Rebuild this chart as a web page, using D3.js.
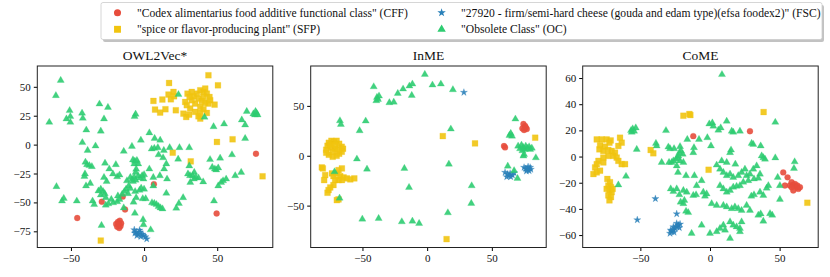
<!DOCTYPE html>
<html>
<head>
<meta charset="utf-8">
<script src="https://cdn.jsdelivr.net/npm/d3@7"></script>
<style>
  body { margin: 0; background: #fff; }
</style>
</head>
<body>
<div id="chart-area"></div>
<script>
// class names as in the legend
var classNames = [
    '"Codex alimentarius food additive functional class" (CFF)',
    '"spice or flavor-producing plant" (SFP)',
    '"27920 - firm/semi-hard cheese (gouda and edam type)(efsa foodex2)" (FSC)',
    '"Obsolete Class" (OC)'
];
var panelTitles = ['OWL2Vec*', 'InME', 'CoME'];

// ---- OWL2Vec* ----
var owlCFF = [[-17.9,-67.0],[-16.6,-65.8],[-15.7,-68.1],[-18.4,-71.0],[-17.0,-72.2],[-16.1,-70.5],[-19.1,-68.7],[-17.3,-68.7],
    [-45.7,-63.5],[-28.9,-49.4],[-14.6,-45.0],[-13.0,-56.1],[6.7,-34.2],[49.6,-59.6],[76.5,-7.9]];
var owlSFP = [[44.0,60.0],[50.5,51.3],[17.1,53.3],[6.4,37.8],[12.5,39.0],[16.7,43.3],[20.1,45.6],[20.5,41.8],[18.3,39.2],
    [7.5,30.3],[11.0,27.7],[14.6,30.6],[21.7,29.7],[26.9,26.8],[28.8,23.9],[30.8,25.9],[28.1,36.9],[29.7,44.1],[32.6,45.6],
    [36.1,44.1],[38.4,47.0],[40.6,45.6],[41.8,48.5],[42.9,44.1],[44.7,41.2],[37.2,39.8],[39.5,37.8],[41.8,36.1],[34.9,35.5],
    [38.4,32.6],[40.6,30.6],[44.0,35.5],[45.2,38.4],[48.2,34.6],[38.4,22.5],[37.2,24.5],[31.5,31.2],[29.2,34.1],[32.6,38.4],
    [33.8,41.8],[31.1,41.2],[40.6,41.2],[38.4,27.4],[42.9,27.4],[34.9,28.3],[49.8,2.3],[60.5,4.6],[31.9,-14.5],[19.6,-7.0],
    [81.0,-27.4],[-29.6,-83.0]];
var owlFSC = [[-6.7,-73.7],[-5.4,-75.7],[-4.0,-77.5],[-2.7,-75.7],[-1.3,-77.5],[-4.9,-78.7],[-3.1,-74.0],[-0.4,-78.7],
    [0.9,-79.8],[1.8,-81.6],[-6.3,-76.6],[-2.2,-79.5]];
var owlOC = [[-57.0,55.6],[-60.3,42.4],[-64.8,19.3],[-50.9,29.5],[-53.1,22.2],[-50.4,24.3],[-50.4,19.3],[-42.4,27.2],
    [-41.9,22.8],[-39.5,12.6],[-42.2,1.8],[-38.6,-5.0],[-33.2,-1.2],[-30.5,35.1],[-24.7,32.2],[-27.4,22.2],[-29.6,11.7],
    [-6.5,24.3],[-5.8,26.3],[3.6,10.2],[-2.2,3.8],[-8.3,-1.5],[-13.9,-5.8],[7.2,5.3],[11.0,3.8],[5.2,-3.8],[7.0,-3.2],
    [9.4,-2.6],[13.5,-5.0],[9.9,-8.8],[13.0,-11.4],[17.5,-2.6],[24.2,-2.6],[23.3,-12.6],[30.9,-2.6],[30.9,-18.4],
    [-40.1,-15.2],[-39.0,-17.3],[-37.4,-18.1],[-35.7,-19.0],[-40.4,-25.4],[-40.8,-27.5],[-36.8,-33.6],[-39.7,-35.7],
    [-59.9,-36.3],[-54.9,-46.5],[-56.1,-48.8],[-46.0,-48.8],[-35.2,-48.8],[-34.1,-51.8],[-31.2,-40.1],[-29.6,-38.6],
    [-28.0,-40.6],[-29.6,-43.6],[-26.9,-42.4],[-26.2,-45.9],[-26.7,-16.1],[-23.8,-21.1],[-27.4,-28.4],[-25.6,-31.9],
    [-21.3,-25.4],[-18.4,-27.8],[-19.3,-17.3],[-16.8,-26.3],[-11.7,-31.3],[-10.5,-35.7],[-12.3,-38.6],[-13.5,-40.6],
    [-15.0,-43.0],[-11.0,-42.4],[-17.9,-44.4],[-16.8,-47.4],[-18.4,-49.4],[-22.4,-47.4],[-21.1,-50.3],[-26.2,-52.3],
    [-24.4,-51.2],[-13.9,-54.7],[-7.6,-13.2],[-6.3,-14.3],[-4.9,-13.7],[-6.7,-16.7],[-4.0,-16.7],[-5.4,-21.3],[-5.8,-24.0],
    [-9.4,-28.4],[-8.1,-30.1],[-6.7,-28.4],[-5.8,-30.7],[-7.6,-31.9],[-4.0,-27.2],[-2.7,-28.9],[-1.3,-26.9],[-0.4,-29.8],
    [0.0,-26.0],[-9.4,-38.0],[-6.1,-40.6],[-3.1,-39.5],[-5.4,-45.9],[-2.0,-37.7],[0.0,-38.6],[-0.9,-46.8],[1.1,-46.8],
    [-7.2,-49.7],[-6.3,-59.4],[-29.1,-69.9],[-0.7,-64.9],[-0.4,-69.3],[4.5,-73.7],[3.6,-21.1],[6.3,-28.4],[6.3,-35.7],
    [15.2,-16.7],[13.7,-21.1],[10.8,-26.9],[15.7,-29.8],[5.4,-50.3],[7.0,-50.9],[8.5,-51.8],[9.9,-53.5],[11.2,-54.7],
    [12.6,-55.6],[15.2,-42.1],[22.0,-55.0],[23.8,-50.9],[26.7,-45.9],[30.0,-25.4],[31.4,-26.9],[33.2,-26.9],[34.3,-24.0],
    [35.4,-28.4],[37.2,-28.9],[31.6,-32.7],[34.1,-29.8],[40.4,-32.2],[45.1,-12.9],[46.6,-19.6],[48.4,-21.1],[49.3,-21.9],
    [50.7,-20.2],[52.0,-11.7],[47.8,-48.8],[50.7,-35.7],[52.7,-32.7],[54.0,-31.3],[56.1,-29.8],[62.3,-26.9],[66.4,-24.0],
    [60.1,-8.8],[47.5,15.5],[54.7,17.8],[41.3,23.7],[66.8,21.3],[69.1,17.0],[69.1,5.3],[70.2,28.7],[74.7,26.6],[75.8,25.7],
    [76.9,27.2],[76.2,28.7],[77.6,25.7],[23.5,43.3]];

// ---- InME ----
var inmeCFF = [[59.4,9.7],[60.2,8.4],[74.4,31.8],[75.7,29.8],[73.6,27.4],[74.9,25.8],[77.0,26.8],[76.2,28.4]];
var inmeSFP = [[-78,6],[-77,10],[-76,13],[-74,15],[-72,14],[-70,15],[-68,12],[-66,9],[-65,7],[-66,4],[-68,2],[-70,0],
    [-73,-1],[-76,1],[-78,3],[-74,8],[-71,7],[-73,4],[-69,6],[-75,11],[-71,11],
    [-81.4,-11.7],[-80.6,-12.7],[-78.8,-19.4],[-79.6,-24.4],[-73.6,-17.7],[-72.4,-20.4],[-69.8,-17.7],[-68.5,-14.4],
    [-65.9,-12.7],[-67.2,-20.4],[-64.6,-21.7],[-62.0,-22.7],[-59.4,-23.7],[-56.3,-22.7],[-65.9,-24.4],[-68.5,-24.4],
    [-71.1,-24.4],[-72.4,-29.4],[-74.9,-31.8],[-76.2,-34.4],[-77.0,-37.1],[-68.5,-43.8],[-69.8,-44.5],
    [83.5,18.1],[12.1,19.7],[37.0,12.4],[15.0,-83.6]];
var inmeFSC = [[28.4,63.5],[60.2,-16.7],[62.0,-18.4],[63.3,-20.1],[64.6,-21.1],[61.5,-21.1],[64.1,-17.7],[65.9,-19.4],
    [67.2,-17.1],[74.9,-11.7],[76.2,-13.0],[77.5,-13.7],[78.8,-15.1],[80.1,-13.7],[76.7,-15.4],[79.6,-11.7],[78.0,-11.0]];
var inmeOC = [[-1.8,81.6],[-41.3,69.2],[-38.8,58.5],[-38.0,56.5],[-39.3,55.2],[-37.2,59.9],[-29.2,53.2],[-25.8,53.8],
    [-22.7,62.5],[-18.6,66.9],[-13.7,69.9],[-11.4,71.9],[-11.9,60.5],[4.1,70.9],[10.6,71.9],[19.9,66.2],[-67.4,35.1],
    [-66.7,31.4],[-47.5,34.8],[-52.2,25.1],[-54.3,-3.3],[-46.5,-13.4],[-17.6,-12.7],[16.8,-8.4],[18.3,26.8],[-14.0,-31.8],
    [-71.6,-16.1],[-67.7,-42.5],[-50.1,-63.5],[-37.5,-62.9],[-19.6,-66.2],[-11.4,-65.6],[-6.2,-67.9],[16.0,-57.2],
    [34.1,-47.8],[34.4,-30.1],[68.2,36.8],[63.6,20.4],[64.6,22.4],[65.6,19.7],[62.3,-10.4],[67.2,-15.0],[69.8,-22.7],
    [70.3,9.7],[71.8,7.0],[72.9,10.7],[74.2,8.4],[75.5,6.4],[76.2,9.7],[77.5,7.4],[78.8,9.0],[79.6,6.4],[80.9,7.7],
    [73.6,5.0],[74.9,1.3],[74.4,-0.3],[84.0,-2.0]];

// ---- CoME ----
var comeCFF = [[-12.0,15.6],[28.7,19.4],[52.6,-12.1],[55.7,-15.9],[53.8,-22.2],[58.6,-19.6],[59.8,-21.7],[61.0,-20.9],
    [62.2,-23.4],[63.4,-24.7],[59.8,-25.9],[57.4,-22.2],[62.7,-22.2],[64.6,-23.4],[58.6,-23.4]];
var comeSFP = [[-81.3,13.1],[-77.8,13.1],[-74.2,13.1],[-71.3,12.3],[-72.2,10.6],[-78.9,8.6],[-75.4,7.6],[-79.4,5.5],
    [-76.6,4.3],[-73.0,5.0],[-70.6,4.3],[-68.2,3.0],[-69.4,0.5],[-67.0,-0.8],[-65.8,-3.3],[-63.4,-5.8],[-61.0,-5.8],
    [-64.6,14.4],[-63.4,10.6],[-65.8,8.1],[-73.0,0.5],[-76.6,-0.8],[-80.1,-3.3],[-81.3,-5.8],[-82.5,-8.3],[-83.7,-13.4],
    [-81.3,-12.1],[-78.9,-10.8],[-76.6,-4.5],[-73.7,-17.1],[-71.8,-19.6],[-73.0,-22.2],[-71.1,-23.4],[-72.2,-25.9],
    [-70.6,-27.2],[-73.0,-29.7],[-71.1,-31.0],[-72.2,-33.5],[-69.9,-24.7],[-74.2,-24.7],
    [-42.6,5.0],[-40.7,2.5],[-19.1,31.2],[-14.8,32.5],[-14.1,31.7],[38.5,34.0],[-1.0,-10.1],[69.9,-35.3]];
var comeFSC = [[-39.2,-32.2],[-52.2,-48.4],[-23.9,-43.8],[-28.7,-58.7],[-27.5,-57.4],[-26.3,-56.2],[-25.1,-54.9],
    [-23.9,-53.7],[-22.7,-52.4],[-21.5,-51.6],[-26.3,-53.7],[-23.9,-51.1],[-28.2,-56.2],[-25.8,-57.9],[-22.0,-54.4]];
var comeOC = [[8.6,62.7],[46.9,26.2],[-31.6,19.9],[-56.7,19.9],[-55.5,21.2],[-54.5,19.4],[-53.3,21.9],[-56.2,18.6],
    [-52.6,5.5],[-60.3,-15.1],[-65.8,-21.7],[-38.8,10.1],[-38.3,8.1],[-34.7,-4.5],[-29.9,7.3],[-28.7,6.0],[-29.4,-4.5],
    [-27.5,-4.5],[-25.8,6.0],[-21.5,7.6],[-20.8,4.3],[-19.6,1.8],[-22.7,0.5],[-24.4,-2.0],[-26.3,-3.3],[-21.5,-3.3],
    [-23.9,-7.1],[-23.0,-12.1],[-19.1,-4.5],[-23.4,-0.8],[-22.0,3.0],[-17.2,-14.6],[-11.2,-14.6],[-12.0,3.0],[-11.5,6.8],
    [-16.3,13.1],[-7.9,13.1],[-1.9,14.4],[0.7,8.1],[-0.5,24.9],[1.7,25.7],[2.4,23.2],[6.0,20.2],[7.7,21.9],[12.0,27.0],
    [15.6,19.4],[16.7,18.6],[21.5,19.4],[29.9,10.1],[31.1,9.3],[36.4,8.1],[38.3,-0.8],[39.5,-2.0],[37.1,0.5],[46.9,-1.0],
    [60.8,-4.0],[60.3,-9.1],[48.6,-15.9],[50.2,-22.2],[41.9,-22.2],[40.7,-24.2],[35.9,-27.2],[38.3,-29.7],[31.6,-29.2],
    [29.7,-30.2],[50.2,-32.7],[44.7,-44.8],[43.1,-43.6],[38.3,-49.4],[34.7,-44.8],[36.4,-43.8],[15.1,5.0],[14.4,3.0],
    [18.2,-5.8],[12.0,-4.5],[8.4,-3.3],[4.8,-6.5],[7.2,-9.6],[9.6,-12.1],[12.0,-14.6],[14.4,-13.4],[16.7,-15.9],
    [20.3,-14.6],[22.7,-12.1],[25.1,-9.6],[26.3,-14.6],[28.7,-13.4],[31.1,-9.6],[33.5,-7.1],[35.9,-13.4],[34.7,-16.6],
    [31.6,-17.1],[27.5,-18.4],[23.9,-19.6],[21.5,-22.2],[19.1,-22.7],[16.7,-23.4],[14.4,-25.9],[12.0,-27.2],[9.6,-24.7],
    [7.2,-22.2],[-9.6,-22.2],[-6.0,-18.4],[-4.8,-27.2],[-3.6,-30.2],[-2.4,-28.5],[1.2,-36.0],[4.8,-37.3],[9.6,-37.3],
    [12.0,-38.5],[15.6,-39.8],[17.9,-38.5],[20.3,-39.8],[22.7,-41.1],[26.3,-37.3],[28.7,-41.1],[14.4,-49.9],[16.7,-52.4],
    [19.1,-53.7],[21.5,-54.9],[22.7,-49.9],[9.6,-52.4],[7.2,-54.9],[4.8,-57.4],[10.8,-56.2],[14.4,-62.5],[21.5,-57.4],
    [0.0,-58.7],[-6.0,-52.4],[-13.2,-58.7],[-17.2,-41.8],[-15.6,-42.8],[-21.1,-34.8],[-18.4,-33.5],[-19.1,-36.0],
    [-26.3,-26.7],[-23.9,-24.7],[-22.0,-29.2],[-19.1,-25.9],[-16.7,-27.2],[-12.0,-29.7],[-10.0,-29.2],[-28.2,-24.7]];

// axis ticks and limits per panel
var xTicks = [[-50, 0, 50], [-50, 0, 50], [-50, 0, 50]];
var yTicks = [[-75, -50, -25, 0, 25, 50], [-50, 0, 50], [-60, -40, -20, 0, 20, 40, 60]];
var xLimits = [[-73, 88], [-90, 92], [-91.4, 77.7]];
var yLimits = [[-89, 68], [-92, 90], [-69.5, 69.2]];

var panelData = [
    [owlCFF, owlSFP, owlFSC, owlOC],
    [inmeCFF, inmeSFP, inmeFSC, inmeOC],
    [comeCFF, comeSFP, comeFSC, comeOC]
];

var colors = ['#e74c3c', '#f1c40f', '#2980b9', '#2ecc71'];
var symbols = [d3.symbolCircle, d3.symbolSquare, d3.symbolStar, d3.symbolTriangle];
var symSizes = [28, 34, 16, 22];
var serif = '"Liberation Serif", "Times New Roman", "DejaVu Serif", serif';

var width = 830, height = 277;
var svg = d3.select("#chart-area").append("svg")
            .attr("width", width)
            .attr('height', height)
            .style('font-family', serif);

var panelLeft = [37.3, 310.7, 582.7];
var panelW = 235.5;
var plotTop = 66, plotBottom = 247.5;

var fmt = (d) => { return String(d).replace('-', '\u2212'); };

panelData.forEach((groups, p) => {
    var x = d3.scaleLinear().domain(xLimits[p]).range([panelLeft[p], panelLeft[p] + panelW]);
    var y = d3.scaleLinear().domain(yLimits[p]).range([plotBottom, plotTop]);

    var g = svg.append('g');

    groups.forEach((pts, c) => {
        g.selectAll('path.c' + c).data(pts).enter().append('path')
            .attr('class', 'c' + c)
            .attr('transform', (d) => { return 'translate(' + x(d[0]) + ',' + y(d[1]) + ')'; })
            .attr('d', d3.symbol().type(symbols[c]).size(symSizes[c]))
            .attr('fill', colors[c])
            .attr('stroke', colors[c])
            .attr('stroke-opacity', 0.3)
            .attr('stroke-width', 0.8)
            .attr('fill-opacity', 0.9);
    });

    g.append('g')
        .attr('transform', 'translate(0,' + plotBottom + ')')
        .call(d3.axisBottom(x).tickValues(xTicks[p]).tickSize(3.5).tickFormat(fmt))
        .call(a => a.select('.domain').remove())
        .call(a => a.selectAll('text').attr('font-family', serif).style('font-size', '11px').attr('fill', '#111'));

    g.append('g')
        .attr('transform', 'translate(' + panelLeft[p] + ',0)')
        .call(d3.axisLeft(y).tickValues(yTicks[p]).tickSize(3.5).tickFormat(fmt))
        .call(a => a.select('.domain').remove())
        .call(a => a.selectAll('text').attr('font-family', serif).style('font-size', '11px').attr('fill', '#111'));

    g.append('rect')
        .attr('x', panelLeft[p]).attr('y', plotTop)
        .attr('width', panelW).attr('height', plotBottom - plotTop)
        .attr('fill', 'none').attr('stroke', '#222').attr('stroke-width', 1);

    svg.append('text')
        .attr('x', panelLeft[p] + panelW / 2).attr('y', 60)
        .attr('text-anchor', 'middle')
        .style('font-size', '13.5px')
        .attr('fill', '#111')
        .text(panelTitles[p]);
});

// legend with shadow
var legend = svg.append('g');
legend.append('rect').attr('x', 103).attr('y', 5).attr('width', 721).attr('height', 37)
    .attr('rx', 2).attr('fill', '#999').attr('opacity', 0.6);
legend.append('rect').attr('x', 101).attr('y', 2.5).attr('width', 721).attr('height', 37)
    .attr('rx', 2).attr('fill', '#fff').attr('stroke', '#ccc').attr('stroke-width', 0.8);

var legX = [117.5, 117.5, 441.6, 441.6];
var legY = [12.7, 29.3, 12.7, 29.3];
classNames.forEach((name, c) => {
    legend.append('path')
        .attr('transform', 'translate(' + legX[c] + ',' + legY[c] + ')')
        .attr('d', d3.symbol().type(symbols[c]).size(symSizes[c] * 1.4))
        .attr('fill', colors[c]);
    legend.append('text')
        .attr('x', legX[c] + 19.5).attr('y', legY[c] + 4)
        .style('font-size', '11.6px')
        .attr('fill', '#111')
        .text(name);
});
</script>
</body>
</html>
